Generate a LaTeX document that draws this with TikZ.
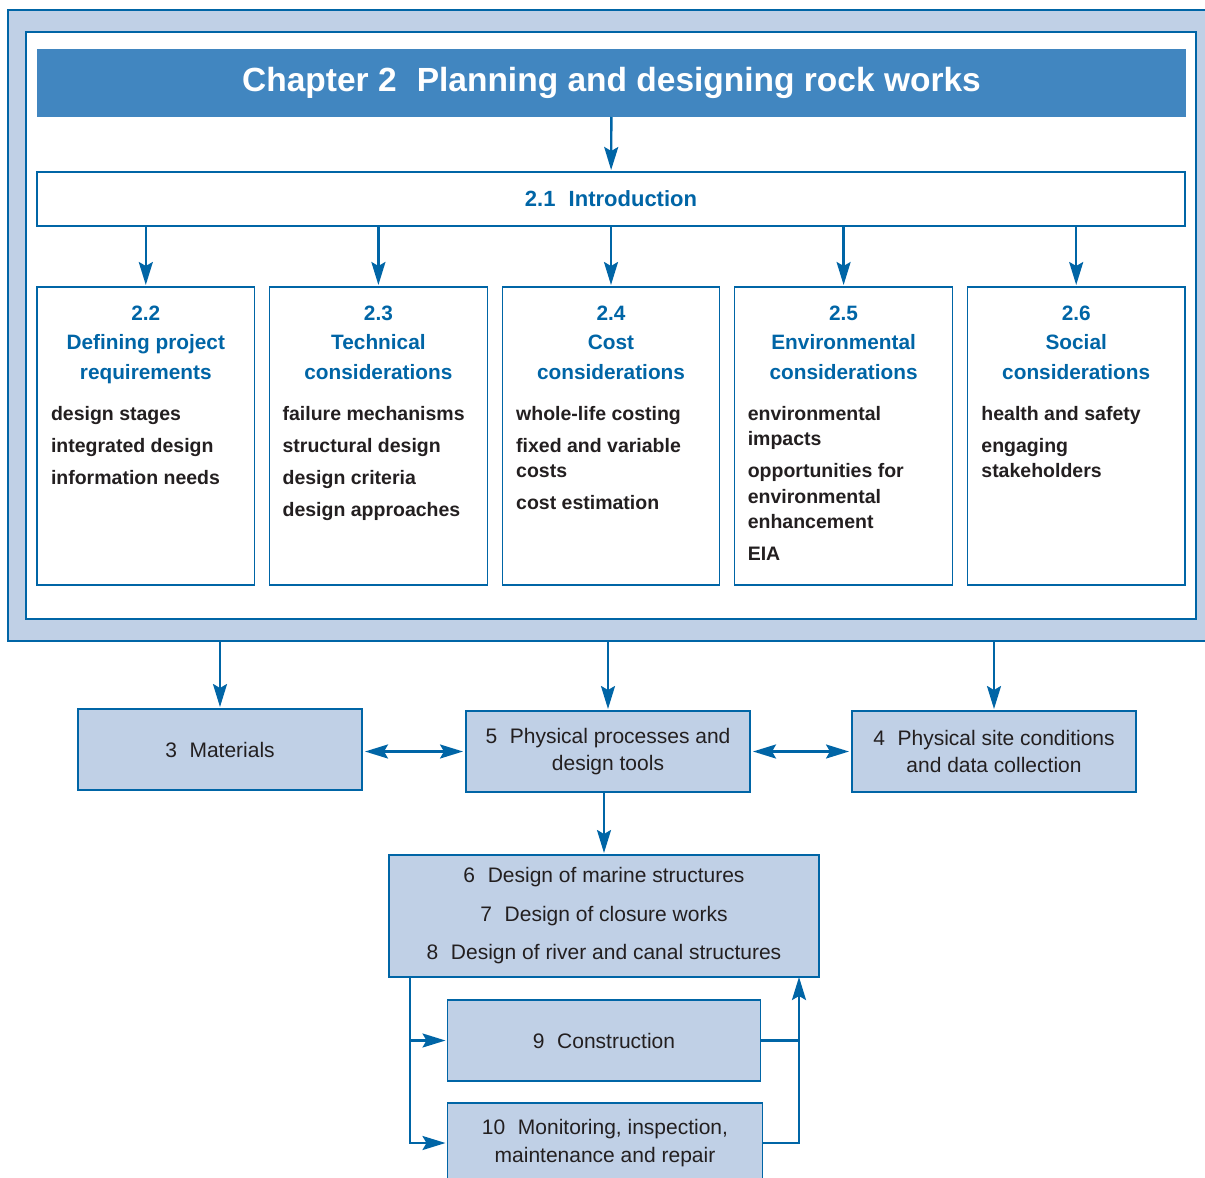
\documentclass[tikz,border=0pt]{standalone}
\usepackage{fontspec}
\setmainfont{Liberation Sans}
\usetikzlibrary{arrows.meta,positioning,calc}

\definecolor{lineblue}{RGB}{0,101,166}
\definecolor{headblue}{RGB}{65,134,192}
\definecolor{paleblue}{RGB}{192,208,230}
\definecolor{inkgrey}{RGB}{35,31,32}
\newcommand{\numgap}{\hspace{0.6em}}

\begin{document}
\begin{tikzpicture}[x=1pt,y=-1pt,node distance=15pt,outer sep=0pt,
  frame/.style={draw=lineblue,fill=paleblue,line width=1.5pt,inner sep=0pt,
    minimum width=1207pt,minimum height=631pt},
  panel/.style={draw=lineblue,fill=white,line width=2.2pt,inner sep=0pt,
    minimum width=1170pt,minimum height=587pt},
  header/.style={fill=headblue,text=white,inner sep=0pt,minimum width=1149pt,
    minimum height=68pt,font=\fontsize{33.5}{40}\selectfont\bfseries},
  intro/.style={draw=lineblue,line width=1.3pt,fill=white,minimum width=1148pt,
    minimum height=54pt,text=lineblue,font=\fontsize{22}{26}\selectfont\bfseries},
  topic/.style={draw=lineblue,line width=1.3pt,fill=white,inner sep=0pt,
    minimum width=217.6pt,minimum height=298pt},
  head/.style={anchor=north,align=center,inner sep=0pt,text=lineblue,
    font=\fontsize{20.8}{29.5}\selectfont\bfseries},
  items/.style={anchor=north west,align=left,inner sep=0pt,text=inkgrey,
    font=\fontsize{19.5}{25.5}\selectfont\bfseries},
  part/.style={draw=lineblue,line width=1.3pt,fill=paleblue,align=center,
    inner sep=0pt,text=inkgrey,font=\fontsize{21}{27.5}\selectfont},
  flow/.style={draw=lineblue,line width=2.4pt,shorten >=2pt,
    -{Stealth[length=23pt,width=14pt,inset=4pt]}},
  both/.style={draw=lineblue,line width=2.4pt,shorten >=3pt,shorten <=3pt,
    {Stealth[length=23pt,width=14pt,inset=4pt]}-{Stealth[length=23pt,width=14pt,inset=4pt]}},
  line/.style={draw=lineblue,line width=2.4pt}]

  \useasboundingbox (0,0) rectangle (1205,1178);

  % chapter frame
  \node[frame] (frame) at (611.5,325.5) {};
  \node[panel] (panel) at (611,325.5) {};
  \node[header] (title) at (611.5,83) {Chapter 2\numgap Planning and designing rock works};
  \node[intro] (intro) at (611,199) {2.1\numgap Introduction};

  % sections
  \node[topic,anchor=north west] (c22) at (37,287) {};
  \node[topic,right=of c22] (c23) {};
  \node[topic,right=of c23] (c24) {};
  \node[topic,right=of c24] (c25) {};
  \node[topic,right=of c25] (c26) {};

  \node[head] (h22) at ([yshift=-18.6pt]c22.north) {2.2\\Defining project\\requirements};
  \node[head] (h23) at ([yshift=-18.6pt]c23.north) {2.3\\Technical\\considerations};
  \node[head] (h24) at ([yshift=-18.6pt]c24.north) {2.4\\Cost\\considerations};
  \node[head] (h25) at ([yshift=-18.6pt]c25.north) {2.5\\Environmental\\considerations};
  \node[head] (h26) at ([yshift=-18.6pt]c26.north) {2.6\\Social\\considerations};

  \node[items] (i22) at ([xshift=14pt,yshift=-119pt]c22.north west)
    {design stages\\[6.5pt]integrated design\\[6.5pt]information needs};
  \node[items] (i23) at ([xshift=13pt,yshift=-119pt]c23.north west)
    {failure mechanisms\\[6.5pt]structural design\\[6.5pt]design criteria\\[6.5pt]design approaches};
  \node[items] (i24) at ([xshift=14pt,yshift=-119pt]c24.north west)
    {whole-life costing\\[6.5pt]fixed and variable\\costs\\[6.5pt]cost estimation};
  \node[items] (i25) at ([xshift=13pt,yshift=-119pt]c25.north west)
    {environmental\\impacts\\[6.5pt]opportunities for\\environmental\\enhancement\\[6.5pt]EIA};
  \node[items] (i26) at ([xshift=14pt,yshift=-119pt]c26.north west)
    {health and safety\\[6.5pt]engaging\\stakeholders};

  \draw[flow] (title) -- (intro);
  \draw[flow] (intro.south -| c22.north) -- (c22.north);
  \draw[flow] (intro.south -| c23.north) -- (c23.north);
  \draw[flow] (intro.south -| c24.north) -- (c24.north);
  \draw[flow] (intro.south -| c25.north) -- (c25.north);
  \draw[flow] (intro.south -| c26.north) -- (c26.north);

  % following chapters
  \node[part,minimum width=284pt,minimum height=81pt] (m5) at (608,751.5)
    {5\numgap Physical processes and\\design tools};
  \node[part,minimum width=284pt,minimum height=81pt,left=104pt of m5,yshift=2pt] (m3)
    {3\numgap Materials};
  \node[part,minimum width=284pt,minimum height=81pt,right=102pt of m5] (m4)
    {4\numgap Physical site conditions\\and data collection};
  \node[part,minimum width=430pt,minimum height=122pt,below=63pt of m5,xshift=-4pt,
    font=\fontsize{21}{38.5}\selectfont] (m68)
    {6\numgap Design of marine structures\\7\numgap Design of closure works\\
     8\numgap Design of river and canal structures};
  \node[part,minimum width=313pt,minimum height=81pt,below=23pt of m68] (m9)
    {9\numgap Construction};
  \node[part,minimum width=315pt,minimum height=80pt,below=22pt of m9,xshift=1pt] (m10)
    {10\numgap Monitoring, inspection,\\maintenance and repair};

  \draw[flow] (frame.south -| m3.north) -- (m3.north);
  \draw[flow] (frame.south -| m5.north) -- (m5.north);
  \draw[flow] (frame.south -| m4.north) -- (m4.north);
  \draw[both] (m3.east |- m5.west) -- (m5.west);
  \draw[both] (m5.east) -- (m4.west);
  \draw[flow] (m5.south -| m68.north) -- (m68.north);

  \coordinate (lx) at ([xshift=21pt]m68.south west);
  \coordinate (rx) at ([xshift=-20pt]m68.south east);
  \draw[flow] (lx) |- (m10.west);
  \draw[flow] (lx |- m9.west) -- (m9.west);
  \draw[line] (m9.east) -- (m9.east -| rx);
  \draw[flow,shorten >=0pt] (m10.east) -| (rx);
\end{tikzpicture}
\end{document}
